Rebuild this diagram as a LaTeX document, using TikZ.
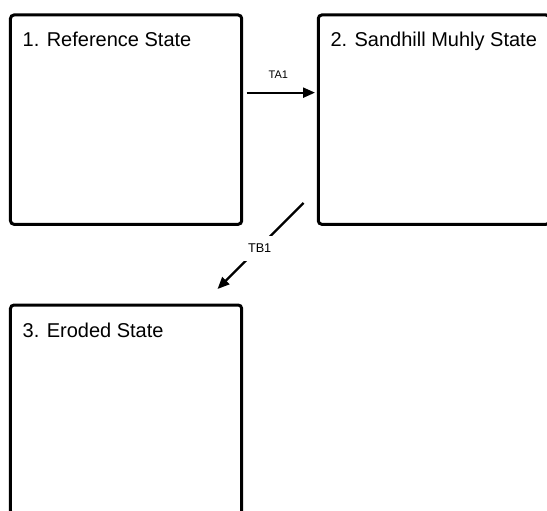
\documentclass[tikz,border=0pt]{standalone}
\usepackage{fontspec}
\setmainfont{Liberation Sans}
\usetikzlibrary{positioning,arrows.meta}
\begin{document}
\begin{tikzpicture}[x=1bp,y=-1bp,
        statebox/.style={draw,line width=3bp,rounded corners=3.5bp,minimum width=231.2bp,
            minimum height=209.3bp,inner sep=0pt,outer sep=0pt},
        statename/.style={anchor=base west,inner sep=0pt,font=\fontsize{20bp}{24bp}\selectfont},
        transition/.style={line width=2.2bp,-{Triangle[length=12bp,width=10bp]}},
        translabel/.style={inner sep=0pt,font=\fontsize{11bp}{13bp}\selectfont}]
        %% Frame
        \useasboundingbox (0,0) rectangle (547,511);
        %% States
        \node[statebox]                     (ref)    at (126.1,119.65) {};
        \node[statebox,right=76.6bp of ref] (muhly)  {};
        \node[statebox,below=80.7bp of ref] (eroded) {};
        %% Names
        \node[statename] (refname)    at ([shift={(12bp,-32bp)}]ref.north west)    {1. Reference State};
        \node[statename] (muhlyname)  at ([shift={(12bp,-32bp)}]muhly.north west)  {2. Sandhill Muhly State};
        \node[statename] (erodedname) at ([shift={(12bp,-32bp)}]eroded.north west) {3. Eroded State};
        %% Transitions
        \draw[transition] ([shift={(5bp,27bp)}]ref.east) -- ([shift={(-3.3bp,27bp)}]muhly.west)
            node[translabel,midway,above=13.4bp,xshift=-2.5bp] (ta1) {TA1};
        \draw[transition] ([shift={(-14.8bp,21.3bp)}]muhly.south west) -- ([shift={(-24.2bp,16bp)}]eroded.north east)
            node[translabel,pos=0.51,fill=white,inner sep=8bp,yshift=-1.5bp,
                font=\fontsize{12.7bp}{15bp}\selectfont] (tb1) {TB1};
\end{tikzpicture}
\end{document}
